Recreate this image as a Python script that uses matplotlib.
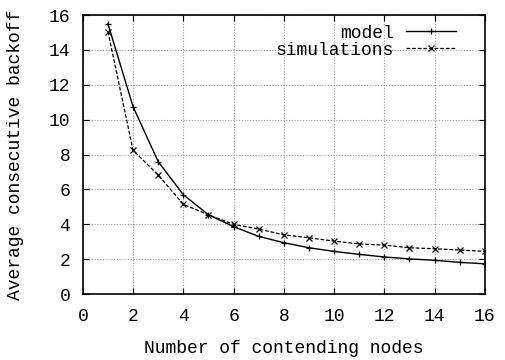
import numpy as np
import matplotlib
matplotlib.use("Agg")
from matplotlib import pyplot as plt

# data
nodes = [1, 2, 3, 4, 5, 6, 7, 8, 9, 10, 11, 12, 13, 14, 15, 16]
model = [15.5, 10.75, 7.6, 5.7, 4.55, 3.87, 3.31, 2.95, 2.66, 2.45,
         2.28, 2.13, 2.02, 1.94, 1.82, 1.74]
simulations = [15.05, 8.25, 6.83, 5.15, 4.55, 4.0, 3.73, 3.4, 3.23, 3.04,
               2.88, 2.81, 2.66, 2.6, 2.53, 2.45]

xticks = np.arange(0, 17, 2)
yticks = np.arange(0, 17, 2)

plt.rcParams['font.family'] = ['Liberation Mono', 'DejaVu Sans Mono']
plt.rcParams['font.size'] = 13

fig = plt.figure(figsize=(5.05, 3.6), dpi=100)
ax = fig.add_axes([0.164, 0.183, 0.796, 0.775])

ax.plot(nodes, model, color="black", lw=1.0, marker="+", ms=5, mew=0.9,
        label="model")
ax.plot(nodes, simulations, color="black", lw=0.9, ls=(0, (3, 1.5)),
        marker="x", ms=4, mew=0.9, label="simulations")

ax.set_xlim(0, 16)
ax.set_ylim(0, 16)
ax.set_xticks(xticks)
ax.set_yticks(yticks)
ax.grid(True, color="#a0a0a0", ls=(0, (1, 1.5)), lw=0.8)
ax.tick_params(direction="in", top=True, right=True, length=4, width=0.8,
               labelsize=13)
ax.tick_params(axis="x", pad=10)
ax.tick_params(axis="y", pad=9)
for s in ax.spines.values():
    s.set_linewidth(1.2)

ax.set_xlabel("Number of contending nodes", labelpad=11)
ax.set_ylabel("Average consecutive backoff", labelpad=18)

ax.legend(loc="upper right", bbox_to_anchor=(0.955, 1.005), frameon=False,
          markerfirst=False, handlelength=2.75, labelspacing=0.0,
          borderaxespad=0.2, handletextpad=0.7, fontsize=13)

fig.savefig("out.png", dpi=100)
